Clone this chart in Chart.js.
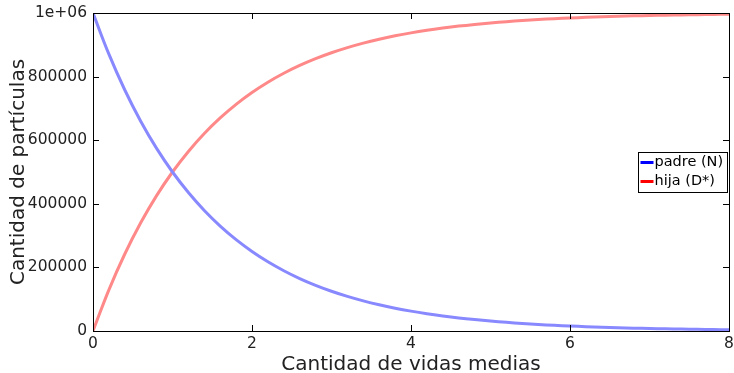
<!DOCTYPE html>
<html>
<head>
<meta charset="utf-8">
<script src="https://cdn.jsdelivr.net/npm/chart.js@4"></script>
<style>
  html, body { margin: 0; padding: 0; background: #fff; }
  #wrap { width: 734px; height: 373px; }
</style>
</head>
<body>
<div id="wrap"><canvas id="c"></canvas></div>
<script>
// vidas medias (x) y cantidades
const vidas = [0, 0.2, 0.4, 0.6, 0.8, 1, 1.2, 1.4, 1.6, 1.8, 2, 2.2, 2.4, 2.6, 2.8, 3, 3.2, 3.4, 3.6, 3.8, 4,
  4.2, 4.4, 4.6, 4.8, 5, 5.2, 5.4, 5.6, 5.8, 6, 6.2, 6.4, 6.6, 6.8, 7, 7.2, 7.4, 7.6, 7.8, 8];
const padre = [1000000, 870500, 757900, 659800, 574300, 500000, 435300, 378900, 329900, 287200, 250000,
  217600, 189500, 164900, 143600, 125000, 108800, 94700, 82500, 71800, 62500,
  54400, 47400, 41200, 35900, 31250, 27200, 23700, 20600, 17950, 15600,
  13600, 11800, 10300, 9000, 7800, 6800, 5900, 5150, 4500, 3900];
const hija = [0, 129500, 242100, 340200, 425700, 500000, 564700, 621100, 670100, 712800, 750000,
  782400, 810500, 835100, 856400, 875000, 891200, 905300, 917500, 928200, 937500,
  945600, 952600, 958800, 964100, 968750, 972800, 976300, 979400, 982050, 984400,
  986400, 988200, 989700, 991000, 992200, 993200, 994100, 994850, 995500, 996100];
const yTicks = [0, 200000, 400000, 600000, 800000, 1000000];
const xTicks = [0, 2, 4, 6, 8];

const FONT = 'DejaVu Sans';

// marco, marcas hacia dentro y leyenda al estilo gnuplot
const gnuplotFrame = {
  id: 'gnuplotFrame',
  afterDatasetsDraw(chart) {
    const { ctx, chartArea: a, scales } = chart;
    ctx.save();
    ctx.strokeStyle = '#000';
    ctx.lineWidth = 1;
    ctx.strokeRect(a.left + 0.5, a.top + 0.5, a.right - a.left, a.bottom - a.top);
    ctx.beginPath();
    yTicks.forEach(v => {
      const y = Math.round(scales.y.getPixelForValue(v)) + 0.5;
      ctx.moveTo(a.left, y); ctx.lineTo(a.left + 6, y);
      ctx.moveTo(a.right, y); ctx.lineTo(a.right - 6, y);
    });
    xTicks.forEach(v => {
      const x = Math.round(scales.x.getPixelForValue(v)) + 0.5;
      ctx.moveTo(x, a.bottom); ctx.lineTo(x, a.bottom - 6);
      ctx.moveTo(x, a.top); ctx.lineTo(x, a.top + 6);
    });
    ctx.stroke();

    // leyenda
    const bx = 638.5, by = 152.5, bw = 89, bh = 40;
    ctx.fillStyle = '#fff';
    ctx.fillRect(bx, by, bw, bh);
    ctx.strokeStyle = '#000';
    ctx.strokeRect(bx, by, bw, bh);
    const cols = ['#0000ff', '#ff0000'];
    ctx.font = '14.5px ' + FONT;
    ctx.textBaseline = 'middle';
    chart.data.datasets.forEach((ds, i) => {
      const y = by + 10 + i * 19;
      ctx.strokeStyle = cols[i];
      ctx.lineWidth = 3;
      ctx.beginPath();
      ctx.moveTo(bx + 2, y); ctx.lineTo(bx + 15, y);
      ctx.stroke();
      ctx.fillStyle = '#000';
      ctx.fillText(ds.label, bx + 16, y);
    });
    ctx.restore();
  }
};

new Chart(document.getElementById('c'), {
  type: 'line',
  data: {
    datasets: [
      { label: 'padre (N)', data: vidas.map((x, i) => ({ x, y: padre[i] })),
        borderColor: '#8888ff', borderWidth: 3, pointRadius: 0, tension: 0.4, fill: false },
      { label: 'hija (D*)', data: vidas.map((x, i) => ({ x, y: hija[i] })),
        borderColor: '#ff8888', borderWidth: 3, pointRadius: 0, tension: 0.4, fill: false }
    ]
  },
  options: {
    responsive: true, maintainAspectRatio: false, animation: false,
    layout: { padding: { top: 13, right: 5, left: 0, bottom: 0 } },
    plugins: { legend: { display: false }, tooltip: { enabled: false } },
    scales: {
      x: {
        type: 'linear', min: 0, max: 8,
        afterBuildTicks: s => { s.ticks = xTicks.map(v => ({ value: v })); },
        afterFit: s => { s.height = 42; s.paddingLeft = 0; s.paddingRight = 0; },
        grid: { display: false, drawTicks: false },
        border: { display: false },
        ticks: { color: '#222', padding: 4, font: { family: FONT, size: 15.5 } },
        title: { display: true, text: 'Cantidad de vidas medias', color: '#222',
          padding: { top: 0, bottom: -2 }, font: { family: FONT, size: 20, lineHeight: 1 } }
      },
      y: {
        min: 0, max: 1000000,
        afterBuildTicks: s => { s.ticks = yTicks.map(v => ({ value: v })); },
        afterFit: s => { s.width = 93; s.paddingTop = 0; s.paddingBottom = 0; },
        grid: { display: false, drawTicks: false },
        border: { display: false },
        ticks: { color: '#222', padding: 6, font: { family: FONT, size: 15.5 } ,
          callback: v => v === 1000000 ? '1e+06' : String(v) },
        title: { display: true, text: 'Cantidad de partículas', color: '#222',
          padding: { top: 9, bottom: 0 }, font: { family: FONT, size: 20, lineHeight: 1 } }
      }
    }
  },
  plugins: [gnuplotFrame]
});
</script>
</body>
</html>
